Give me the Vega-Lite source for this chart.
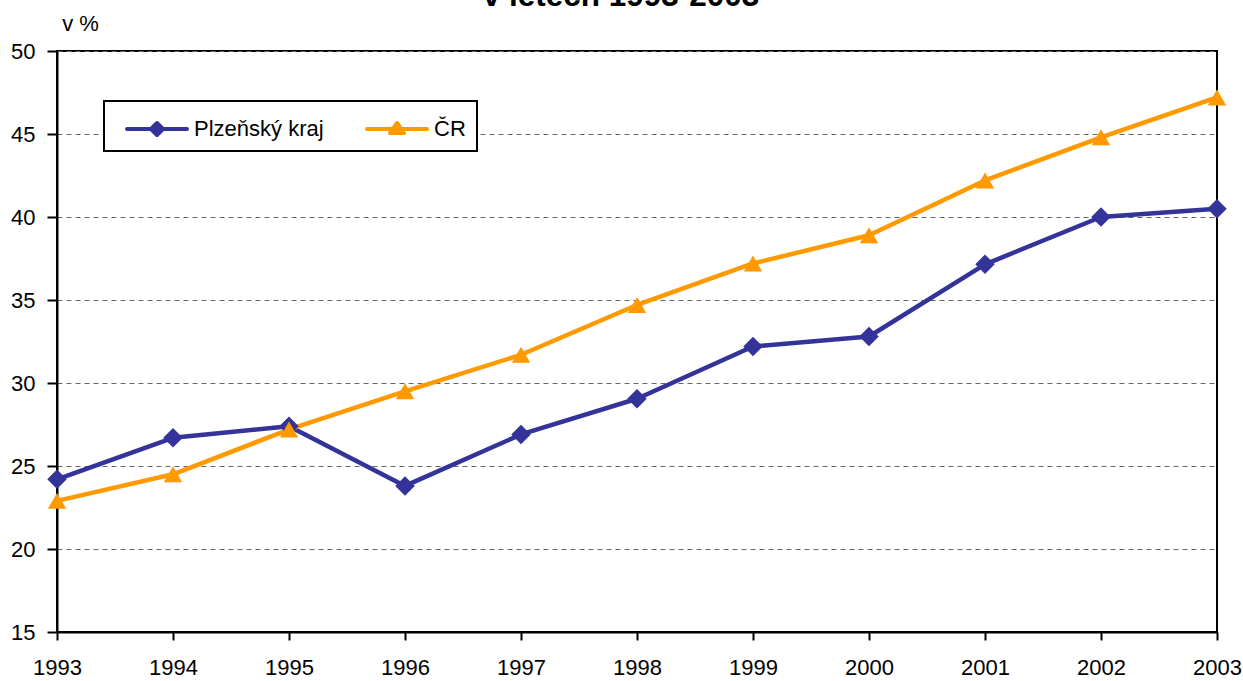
{
  "$schema": "https://vega.github.io/schema/vega-lite/v6.json",
  "width": 1160,
  "height": 581,
  "autosize": {"type": "none"},
  "padding": {"left": 57, "top": 51, "right": 26, "bottom": 49},
  "background": "white",
  "title": {
    "text": "v letech 1993-2003",
    "fontSize": 31.5,
    "fontWeight": "bold",
    "font": "Liberation Sans",
    "color": "black",
    "anchor": "middle",
    "dx": -16,
    "dy": 25,
    "offset": 0,
    "baseline": "alphabetic"
  },
  "data": {
    "values": [
      {"year": 1993, "region": "Plzeňský kraj", "value": 24.2},
      {"year": 1994, "region": "Plzeňský kraj", "value": 26.7},
      {"year": 1995, "region": "Plzeňský kraj", "value": 27.4},
      {"year": 1996, "region": "Plzeňský kraj", "value": 23.8},
      {"year": 1997, "region": "Plzeňský kraj", "value": 26.9},
      {"year": 1998, "region": "Plzeňský kraj", "value": 29.05},
      {"year": 1999, "region": "Plzeňský kraj", "value": 32.2},
      {"year": 2000, "region": "Plzeňský kraj", "value": 32.8},
      {"year": 2001, "region": "Plzeňský kraj", "value": 37.15},
      {"year": 2002, "region": "Plzeňský kraj", "value": 40.0},
      {"year": 2003, "region": "Plzeňský kraj", "value": 40.5},
      {"year": 1993, "region": "ČR", "value": 22.9},
      {"year": 1994, "region": "ČR", "value": 24.5},
      {"year": 1995, "region": "ČR", "value": 27.2},
      {"year": 1996, "region": "ČR", "value": 29.5},
      {"year": 1997, "region": "ČR", "value": 31.7},
      {"year": 1998, "region": "ČR", "value": 34.7},
      {"year": 1999, "region": "ČR", "value": 37.2},
      {"year": 2000, "region": "ČR", "value": 38.9},
      {"year": 2001, "region": "ČR", "value": 42.2},
      {"year": 2002, "region": "ČR", "value": 44.8},
      {"year": 2003, "region": "ČR", "value": 47.2}
    ]
  },
  "encoding": {
    "x": {
      "field": "year",
      "type": "quantitative",
      "scale": {"domain": [1993, 2003], "nice": false, "zero": false},
      "axis": {
        "title": null,
        "values": [1993, 1994, 1995, 1996, 1997, 1998, 1999, 2000, 2001, 2002, 2003],
        "format": "d",
        "grid": false,
        "domainColor": "black",
        "domainWidth": 2,
        "tickColor": "black",
        "tickWidth": 2,
        "tickSize": 8,
        "labelPadding": 17,
        "labelFontSize": 22,
        "labelColor": "black",
        "labelFlush": false,
        "labelOverlap": false
      }
    },
    "y": {
      "field": "value",
      "type": "quantitative",
      "scale": {"domain": [15, 50], "nice": false, "zero": false},
      "axis": {
        "title": "v %",
        "titleAngle": 0,
        "titleX": 23,
        "titleY": -21,
        "titleAlign": "center",
        "titleBaseline": "alphabetic",
        "titleFontSize": 22,
        "titleFontWeight": "normal",
        "titleColor": "black",
        "values": [15, 20, 25, 30, 35, 40, 45, 50],
        "grid": true,
        "gridColor": "#666666",
        "gridDash": [5, 4],
        "gridWidth": 1.2,
        "domainColor": "black",
        "domainWidth": 2,
        "tickColor": "black",
        "tickWidth": 2,
        "tickSize": 10,
        "labelPadding": 12,
        "labelFontSize": 22,
        "labelColor": "black"
      }
    }
  },
  "layer": [
    {
      "mark": {"type": "line", "strokeWidth": 4.5, "strokeJoin": "round"},
      "encoding": {
        "color": {
          "field": "region",
          "type": "nominal",
          "scale": {"domain": ["Plzeňský kraj", "ČR"], "range": ["#333399", "#FF9900"]},
          "legend": {
            "title": null,
            "orient": "none",
            "legendX": 47,
            "legendY": 50,
            "direction": "horizontal",
            "padding": 11,
            "strokeColor": "black",
            "fillColor": "white",
            "labelFontSize": 22,
            "labelColor": "black",
            "labelOffset": 45,
            "columnPadding": 31,
            "symbolSize": 900,
            "symbolStrokeWidth": 4,
            "encode": {
              "legend": {"update": {"strokeWidth": {"value": 2}}},
              "symbols": {
                "update": {
                  "shape": {"signal": "datum.value === 'ČR' ? 'M-0.333,0H3.667M1.667,-0.4L2.137,0.27L1.197,0.27Z' : 'M-0.333,0H3.667M1.667,-0.4L2.067,0L1.667,0.4L1.267,0Z'"},
                  "fill": {"scale": "color", "field": "value"},
                  "stroke": {"scale": "color", "field": "value"},
                  "strokeWidth": {"value": 4},
                  "strokeJoin": {"value": "round"},
                  "strokeCap": {"value": "round"},
                  "opacity": {"value": 1},
                  "fillOpacity": {"value": 1}
                }
              }
            }
          }
        }
      }
    },
    {
      "transform": [{"filter": "datum.region === 'Plzeňský kraj'"}],
      "mark": {"type": "point", "shape": "diamond", "filled": true, "opacity": 1, "size": 380, "color": "#333399"}
    },
    {
      "transform": [{"filter": "datum.region === 'ČR'"}],
      "mark": {"type": "point", "shape": "triangle-up", "filled": true, "opacity": 1, "size": 340, "color": "#FF9900"}
    }
  ],
  "config": {
    "font": "Liberation Sans",
    "view": {"stroke": "black", "strokeWidth": 2}
  }
}
